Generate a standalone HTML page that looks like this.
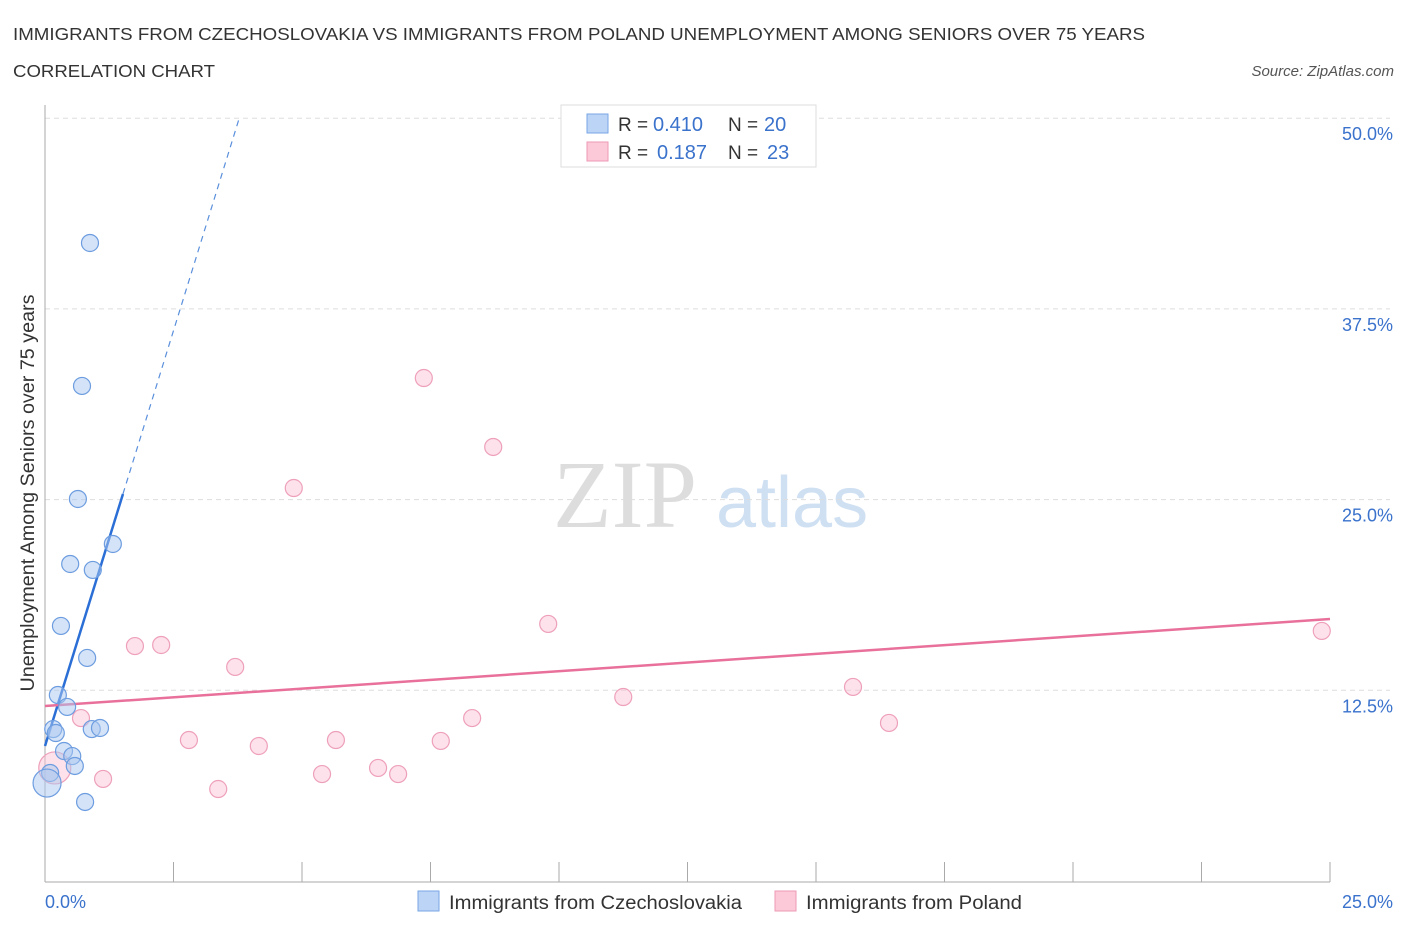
<!DOCTYPE html>
<html><head><meta charset="utf-8"><style>
body{margin:0;background:#fff;font-family:"Liberation Sans",sans-serif;}
svg{display:block}
</style></head><body>
<svg id="chart" width="1406" height="930" xmlns="http://www.w3.org/2000/svg" font-family="Liberation Sans, sans-serif">
<text x="13" y="40" font-size="17.5" fill="#333" textLength="1132" lengthAdjust="spacingAndGlyphs">IMMIGRANTS FROM CZECHOSLOVAKIA VS IMMIGRANTS FROM POLAND UNEMPLOYMENT AMONG SENIORS OVER 75 YEARS</text>
<text x="13" y="77" font-size="17.5" fill="#333" textLength="202" lengthAdjust="spacingAndGlyphs">CORRELATION CHART</text>
<text x="1394" y="76" font-size="15" fill="#555" font-style="italic" text-anchor="end">Source: ZipAtlas.com</text>
<text x="553" y="527" font-size="96" font-family="Liberation Serif, serif" fill="#ddd">ZIP</text>
<text x="716" y="527" font-size="72" fill="#cfe0f3">atlas</text>
<g id="grid"></g>
<g id="axes"></g>
<g id="lines"></g>
<g id="points"></g>
<text transform="translate(34,493) rotate(-90)" font-size="19" fill="#333" text-anchor="middle" textLength="397" lengthAdjust="spacingAndGlyphs">Unemployment Among Seniors over 75 years</text>
<g>
<rect x="561" y="105" width="255" height="62" fill="#fff" stroke="#ddd"/>
<rect x="587" y="114" width="21" height="19" fill="#bcd4f6" stroke="#7aa6e6"/>
<rect x="587" y="142" width="21" height="19" fill="#fcc9d8" stroke="#ee9ab5"/>
<text x="618" y="131" font-size="19" fill="#333">R =</text>
<text x="653" y="131" font-size="20" fill="#3a72cc">0.410</text>
<text x="728" y="131" font-size="19" fill="#333">N =</text>
<text x="764" y="131" font-size="20" fill="#3a72cc">20</text>
<text x="618" y="159" font-size="19" fill="#333">R =</text>
<text x="657" y="159" font-size="20" fill="#3a72cc">0.187</text>
<text x="728" y="159" font-size="19" fill="#333">N =</text>
<text x="767" y="159" font-size="20" fill="#3a72cc">23</text>
</g>
<g>
<rect x="418" y="891" width="21" height="20" fill="#bcd4f6" stroke="#7aa6e6"/>
<text x="449" y="909" font-size="19" fill="#333" textLength="293" lengthAdjust="spacingAndGlyphs">Immigrants from Czechoslovakia</text>
<rect x="775" y="891" width="21" height="20" fill="#fcc9d8" stroke="#ee9ab5"/>
<text x="806" y="909" font-size="19" fill="#333" textLength="216" lengthAdjust="spacingAndGlyphs">Immigrants from Poland</text>
</g>
</svg>
<script>
const yTicks=[12.5,25,37.5,50];
const yTickLabels=["12.5%","25.0%","37.5%","50.0%"];
const xTickLabels=["0.0%","25.0%"];
const czX=[0.875,0.72,0.64,0.49,0.93,1.32,0.31,0.82,0.25,0.43,0.16,0.21,0.91,1.07,0.37,0.53,0.58,0.78,0.10,0.04];
const czY=[41.82,32.45,25.04,20.78,20.39,22.09,16.72,14.62,12.19,11.41,9.96,9.70,9.96,10.03,8.52,8.19,7.54,5.18,7.08,6.42];
const plX=[24.84,7.37,8.72,4.84,9.79,1.75,2.26,3.70,15.72,11.25,8.31,16.42,0.70,2.80,4.16,5.66,7.70,5.39,6.48,6.87,1.13,3.37,0.19];
const plY=[16.39,32.97,28.45,25.76,16.85,15.40,15.47,14.03,12.72,12.06,10.68,10.36,10.68,9.24,8.85,9.24,9.18,7.01,7.41,7.01,6.69,6.03,7.41];
const czTrend=[8.85,10.89]; // intercept, slope
const plTrend=[11.47,17.17]; // y at x=0, y at x=25
const NS="http://www.w3.org/2000/svg";
const X=v=>45+v/25*1285, Y=v=>881-v/12.5*190.7;
function mk(t,a,p){const e=document.createElementNS(NS,t);for(const k in a)e.setAttribute(k,a[k]);document.getElementById(p).appendChild(e);return e;}
yTicks.forEach((t,i)=>{
 const g=mk('line',{x1:45,x2:1390,y1:Y(t),y2:Y(t),stroke:'#ddd','stroke-dasharray':'5,4'},'grid');
 
 
 const l=mk('text',{x:1393,y:Y(t)+22,'font-size':18,fill:'#3a72cc','text-anchor':'end'},'axes');
 l.textContent=yTickLabels[i];
 
 
});
const ax=mk('line',{x1:45,x2:45,y1:105,y2:882,stroke:'#aaa'},'axes');


const bx=mk('line',{x1:45,x2:1330,y1:882,y2:882,stroke:'#aaa'},'axes');


for(let i=0;i<=10;i++){const t=mk('line',{x1:X(i*2.5),x2:X(i*2.5),y1:862,y2:882,stroke:'#aaa'},'axes');
 
 }
[[0,'start',45],[1,'end',1393]].forEach(([i,a,x])=>{const t=mk('text',{x:x,y:908,'font-size':18,fill:'#3a72cc','text-anchor':a},'axes');t.textContent=xTickLabels[i];
 
 });
const solidEnd=1.517, dashEnd=(50-czTrend[0])/czTrend[1];
let l1=mk('line',{x1:X(0),y1:Y(czTrend[0]),x2:X(solidEnd),y2:Y(czTrend[0]+czTrend[1]*solidEnd),stroke:'#2b6fd6','stroke-width':2.5},'lines');


let l2=mk('line',{x1:X(solidEnd),y1:Y(czTrend[0]+czTrend[1]*solidEnd),x2:X(dashEnd),y2:Y(czTrend[0]+czTrend[1]*dashEnd),stroke:'#5a8fdc','stroke-width':1.2,'stroke-dasharray':'6,5'},'lines');


let l3=mk('line',{x1:X(0),y1:Y(plTrend[0]),x2:X(25),y2:Y(plTrend[1]),stroke:'#e8709a','stroke-width':2.5},'lines');


plX.forEach((x,i)=>{const c=mk('circle',{cx:X(x),cy:Y(plY[i]),r:i==22?16:8.5,fill:'rgba(250,190,210,0.45)',stroke:'#eea0ba','stroke-width':1.2},'points');
 
 });
czX.forEach((x,i)=>{const c=mk('circle',{cx:X(x),cy:Y(czY[i]),r:i==19?14:8.5,fill:'rgba(170,200,240,0.5)',stroke:'#6d9de0','stroke-width':1.2},'points');
 
 });
</script>
</body></html>
